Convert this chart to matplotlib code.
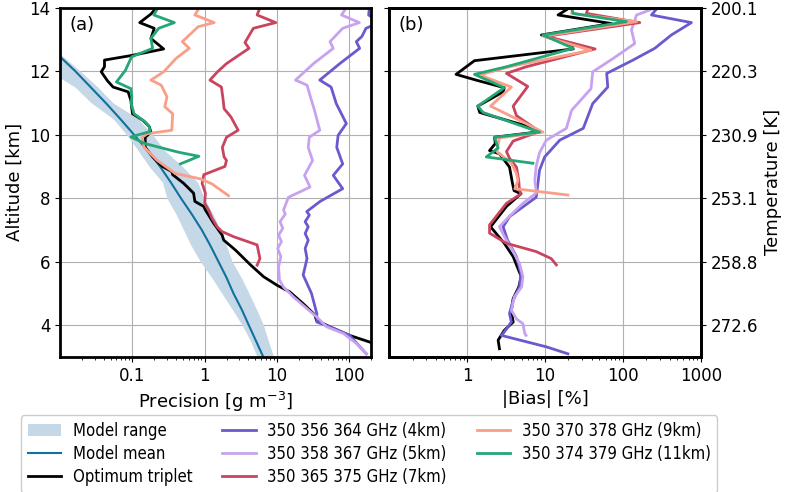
import numpy as np
import matplotlib
matplotlib.use("Agg")
import matplotlib.pyplot as plt
from matplotlib.font_manager import FontProperties

# ---------------- data ----------------
# Model mean / range (precision, g m^-3)
mod_alt = [12.6, 12.5, 12.0, 11.5, 11.0, 10.5, 10.0, 9.5, 9.0, 8.5, 8.0, 7.5, 7.0, 6.5, 6.0, 5.5, 5.0, 4.5, 4.0, 3.5, 3.0]
mod_mean = [0.008, 0.0095, 0.0162, 0.0263, 0.0427, 0.0676, 0.105, 0.162, 0.24, 0.339, 0.468, 0.66, 0.91, 1.2, 1.55, 2.0, 2.5, 3.24, 4.07, 5.13, 6.46]
mod_lo = [0.005, 0.005, 0.007, 0.016, 0.027, 0.054, 0.083, 0.12, 0.17, 0.26, 0.30, 0.40, 0.51, 0.65, 0.87, 1.25, 1.73, 2.4, 3.3, 4.3, 5.3]
mod_hi = [0.009, 0.0105, 0.019, 0.033, 0.054, 0.12, 0.19, 0.28, 0.49, 0.80, 0.98, 1.3, 1.64, 2.0, 2.4, 3.2, 4.1, 5.2, 6.5, 7.6, 9.0]

# Optimum triplet precision
opt_alt = [14, 13.8, 13.53, 13.35, 13.03, 12.7, 12.5, 12.35, 12.14, 11.98, 11.7, 11.5, 11.35, 11.08, 10.66, 10.45, 10.26, 10.08, 9.92, 9.6, 9.3, 9.0, 8.84, 8.74, 8.47, 8.16, 7.9, 7.74, 7.63, 7.21, 6.84, 6.68, 6.37, 5.9, 5.53, 5.26, 5.05, 4.68, 4.32, 4.16, 3.95, 3.68, 3.47, 3.4]
opt_prec = [0.215, 0.18, 0.126, 0.2, 0.18, 0.27, 0.1, 0.041, 0.041, 0.037, 0.045, 0.054, 0.087, 0.095, 0.1, 0.14, 0.17, 0.18, 0.15, 0.15, 0.19, 0.26, 0.35, 0.36, 0.51, 0.7, 0.73, 0.97, 1.02, 1.33, 1.74, 1.83, 2.65, 4.3, 6.5, 10, 15, 23, 33.6, 35, 54, 101, 192, 230]

# Triplet 350 356 364 GHz (4km)
t4_alt = [14, 13.77, 13.53, 13.35, 13.1, 12.93, 12.72, 12.24, 11.72, 11.5, 10.98, 10.35, 9.98, 9.6, 9.08, 8.72, 8.3, 7.9, 7.58, 7.47, 7.26, 7.1, 6.89, 6.68, 6.42, 6.1, 5.58, 5.4, 5.0, 4.37, 4.1, 3.95, 3.68, 3.1]
t4_prec = [190, 185, 260, 170, 150, 125, 139, 74, 39, 56, 66, 91, 70, 67, 81, 60, 81, 39.5, 25.8, 28, 24.5, 27, 24.5, 27, 24.5, 26, 23, 25, 30, 35.5, 35.5, 54, 101, 172]

# Triplet 350 358 367 GHz (5km)
t5_alt = [14, 13.77, 13.53, 13.35, 12.93, 12.72, 12.24, 11.72, 11.56, 11.19, 10.77, 10.14, 9.92, 9.6, 9.19, 8.72, 8.35, 8.03, 7.63, 7.5, 7.26, 7.05, 6.84, 6.63, 6.42, 6.16, 5.84, 5.42, 5.2, 4.89, 4.53, 4.26, 3.95, 3.74, 3.42, 3.1]
t5_prec = [91, 78, 138, 81, 54, 60, 32, 18, 26, 29, 33, 39, 28, 27, 31, 24, 28.6, 14.4, 12.3, 13, 11, 12, 10.5, 11.5, 10.2, 11.3, 10.5, 10.8, 12.3, 16.9, 25.7, 35.5, 48.6, 83, 126, 172]

# Triplet 350 365 375 GHz (7km)
t7_alt = [14, 13.77, 13.53, 13.35, 12.9, 12.72, 12.24, 11.98, 11.72, 11.5, 11.08, 10.82, 10.56, 10.14, 9.92, 9.6, 9.3, 9.19, 9.0, 8.74, 8.47, 8.16, 7.84, 7.63, 7.37, 7.1, 6.95, 6.79, 6.53, 6.1, 5.89]
t7_prec = [5.8, 5.3, 9.6, 4.7, 3.6, 4.1, 2.0, 1.5, 1.18, 1.7, 1.8, 1.85, 2.3, 2.9, 2.0, 1.75, 1.85, 2.0, 1.9, 0.97, 0.92, 1.02, 1.0, 1.13, 1.26, 1.48, 1.73, 2.5, 5.3, 5.8, 5.3]

# Triplet 350 370 378 GHz (9km)
t9_alt = [14, 13.77, 13.53, 13.4, 12.93, 12.72, 12.4, 11.98, 11.72, 11.56, 11.19, 10.88, 10.66, 10.14, 10.03, 9.92, 9.6, 9.19, 8.78, 8.61, 8.45, 8.08]
t9_prec = [0.84, 0.73, 1.35, 0.81, 0.49, 0.61, 0.4, 0.27, 0.18, 0.25, 0.3, 0.28, 0.36, 0.35, 0.16, 0.137, 0.145, 0.22, 0.39, 0.87, 1.26, 2.13]

# Triplet 350 374 379 GHz (11km)
t11_alt = [14, 13.77, 13.53, 13.35, 13.03, 12.72, 12.45, 12.03, 11.66, 11.45, 11.19, 10.98, 10.66, 10.4, 10.26, 10.1, 9.93, 9.72, 9.45, 9.32, 9.08]
t11_prec = [0.226, 0.197, 0.38, 0.23, 0.18, 0.19, 0.097, 0.08, 0.06, 0.095, 0.098, 0.096, 0.105, 0.15, 0.17, 0.175, 0.095, 0.149, 0.43, 0.83, 0.46]

# Bias (%)
optb_alt = [14, 13.77, 13.5, 13.14, 12.82, 12.7, 12.33, 11.9, 11.72, 11.48, 11.35, 10.9, 10.7, 10.2, 10.08, 9.92, 9.72, 9.5, 9.4, 8.98, 8.5, 8.24, 8.14, 7.74, 7.1, 6.95, 6.58, 6.16, 5.53, 5.2, 4.84, 4.47, 4.1, 3.84, 3.53, 3.26]
optb_bias = [20.8, 14.7, 71, 9, 22, 23, 1.24, 0.72, 1.3, 3.0, 2.9, 1.37, 1.45, 7.4, 7.7, 2.25, 2.3, 1.94, 2.6, 3.5, 3.8, 4.0, 4.9, 3.2, 2.0, 2.25, 3.0, 3.9, 4.95, 4.6, 3.9, 3.7, 3.9, 3.0, 2.5, 2.6]

b4_alt = [14, 13.77, 13.53, 13.14, 12.72, 12.35, 11.93, 11.5, 10.98, 10.2, 9.83, 9.3, 8.88, 8.45, 8.03, 7.42, 7.1, 6.68, 6.16, 5.63, 5.2, 4.79, 4.37, 4.1, 3.74, 3.68, 3.32, 3.1]
b4_bias = [280, 233, 760, 420, 257, 135, 62, 64, 41, 31, 15.5, 9.9, 8.5, 8.1, 7.7, 3.5, 2.9, 3.3, 4.3, 4.9, 4.7, 3.9, 3.5, 3.7, 2.9, 2.75, 10.4, 19.7]

b5_alt = [14, 13.93, 13.77, 13.3, 12.87, 12.4, 11.98, 11.45, 10.77, 10.2, 9.83, 9.43, 9.0, 8.56, 8.26, 8.16, 7.84, 7.37, 7.1, 6.8, 6.32, 5.95, 5.53, 5.2, 4.9, 4.47, 4.2, 4.05, 3.74, 3.68]
b5_bias = [250, 223, 150, 129, 142, 75, 41, 39, 22, 18.8, 10.4, 8.5, 7.7, 7.4, 7.7, 7.7, 5.2, 3.3, 2.6, 3.0, 3.9, 4.7, 5.2, 5.0, 4.05, 3.7, 4.3, 5.2, 5.5, 5.7]

b7_alt = [14, 13.82, 13.53, 13.1, 12.7, 12.14, 11.93, 11.52, 10.9, 10.6, 10.1, 9.8, 9.47, 9.26, 8.98, 8.56, 8.24, 8.14, 7.84, 7.16, 6.9, 6.58, 6.32, 6.1, 5.9]
b7_bias = [36, 34, 165, 10.4, 44, 5.75, 3.2, 6.0, 3.9, 4.3, 8.5, 3.9, 3.2, 3.5, 4.3, 4.6, 4.7, 4.95, 3.2, 1.94, 1.94, 3.2, 7.7, 12, 14]

b9_alt = [14, 13.82, 13.56, 13.1, 12.66, 12.14, 11.88, 11.5, 10.9, 10.35, 10.08, 9.9, 9.47, 9.1, 8.78, 8.56, 8.3, 8.1]
b9_bias = [23, 22, 150, 9.4, 39, 3.5, 1.45, 3.7, 2.0, 5.7, 9.4, 2.6, 2.4, 3.7, 4.3, 4.5, 4.1, 19.7]

b11_alt = [14, 13.82, 13.56, 13.14, 12.72, 12.14, 11.9, 11.48, 10.9, 10.7, 10.08, 9.92, 9.58, 9.3, 9.1]
b11_bias = [21.8, 23, 111, 9.4, 23, 3.2, 1.24, 3.0, 1.37, 1.6, 8.5, 2.25, 2.5, 1.76, 7.0]

alt_ticks = [4, 6, 8, 10, 12, 14]
temp_labels = ["272.6", "258.8", "253.1", "230.9", "220.3", "200.1"]

labels = ["350 356 364 GHz (4km)", "350 358 367 GHz (5km)", "350 365 375 GHz (7km)",
          "350 370 378 GHz (9km)", "350 374 379 GHz (11km)"]
colors = ["#6a5acd", "#c8a2f0", "#c9455f", "#fa9e88", "#24a775"]

# ---------------- plot ----------------
fig = plt.figure(figsize=(7.89, 4.92), dpi=100)
axa = fig.add_axes([0.0763, 0.2744, 0.394, 0.71])
axb = fig.add_axes([0.4934, 0.2744, 0.3947, 0.71])

band_color = "#c5d8e7"
mean_color = "#11709e"

h_band = axa.fill_betweenx(mod_alt, mod_lo, mod_hi, color=band_color, lw=0, label="Model range")
h_mean, = axa.plot(mod_mean, mod_alt, color=mean_color, lw=1.5, label="Model mean")
h_opt, = axa.plot(opt_prec, opt_alt, color="black", lw=2, label="Optimum triplet")
prec_sets = [(t4_prec, t4_alt), (t5_prec, t5_alt), (t7_prec, t7_alt), (t9_prec, t9_alt), (t11_prec, t11_alt)]
handles = [h_band, h_mean, h_opt]
for (v, a), c, lab in zip(prec_sets, colors, labels):
    h, = axa.plot(v, a, color=c, lw=2, label=lab)
    handles.append(h)

axb.plot(optb_bias, optb_alt, color="black", lw=2)
bias_sets = [(b4_bias, b4_alt), (b5_bias, b5_alt), (b7_bias, b7_alt), (b9_bias, b9_alt), (b11_bias, b11_alt)]
for (v, a), c in zip(bias_sets, colors):
    axb.plot(v, a, color=c, lw=2)

for ax in (axa, axb):
    ax.set_xscale("log")
    ax.set_ylim(3, 14)
    ax.set_yticks(alt_ticks)
    ax.grid(True, which="major", color="#b0b0b0", lw=0.8)
    ax.set_axisbelow(True)
    for s in ax.spines.values():
        s.set_linewidth(2)
    ax.tick_params(labelsize=12)

axa.set_xlim(0.01, 200)
axa.set_xticks([0.1, 1, 10, 100])
axa.set_xticklabels(["0.1", "1", "10", "100"])
axa.set_xlabel("Precision [g m$^{-3}$]", fontsize=13)
axa.set_ylabel("Altitude [km]", fontsize=13)
axa.text(0.03, 0.975, "(a)", transform=axa.transAxes, va="top", ha="left", fontsize=13)

axb.set_xlim(0.1, 1000)
axb.set_xticks([1, 10, 100, 1000])
axb.set_xticklabels(["1", "10", "100", "1000"])
axb.set_xlabel("|Bias| [%]", fontsize=13)
axb.tick_params(labelleft=False)
axb.text(0.03, 0.975, "(b)", transform=axb.transAxes, va="top", ha="left", fontsize=13)

ax2 = axb.twinx()
ax2.set_ylim(3, 14)
ax2.set_yticks(alt_ticks)
ax2.set_yticklabels(temp_labels)
ax2.tick_params(labelsize=12)
ax2.set_ylabel("Temperature [K]", fontsize=13)
for s in ax2.spines.values():
    s.set_linewidth(2)

leg_font = FontProperties(family="DejaVu Sans", stretch="condensed", size=12)
fig.legend(handles=handles, loc="upper center", bbox_to_anchor=(0.468, 0.173), ncol=3,
           prop=leg_font, handlelength=2.0, handletextpad=0.7, columnspacing=1.8,
           labelspacing=0.3, framealpha=1, edgecolor="#cccccc", borderpad=0.4)

fig.savefig("out.png", dpi=100)
